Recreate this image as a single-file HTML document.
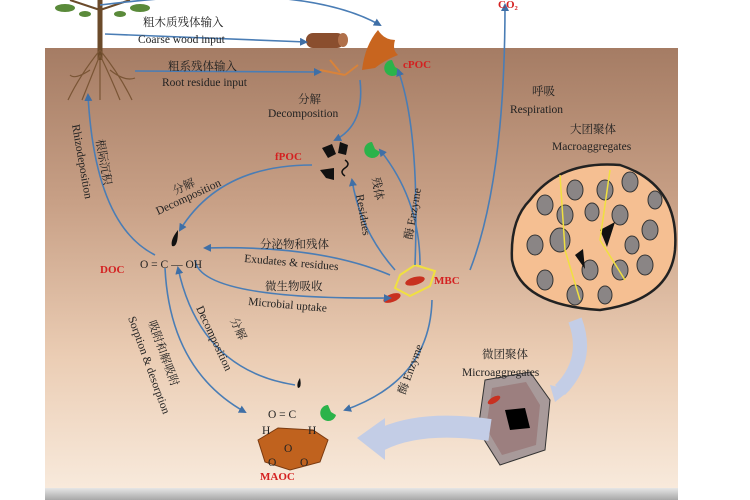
<!DOCTYPE html>
<html><head><meta charset="utf-8"><style>
html,body{margin:0;padding:0;background:#fff;}
svg{display:block}
text{font-family:"Liberation Serif","Noto Serif CJK SC",serif;fill:#222;}
.cn{font-size:11.5px}
.en{font-size:11.5px}
.red{fill:#d42020;font-weight:bold;font-size:11px}
.ar{fill:none;stroke:#4a7db5;stroke-width:1.6}
</style></head><body>
<svg width="750" height="500" viewBox="0 0 750 500">
<defs>
<linearGradient id="soil" x1="0" y1="0" x2="0" y2="1">
<stop offset="0" stop-color="#a57c64"/>
<stop offset="0.35" stop-color="#c8a086"/>
<stop offset="0.7" stop-color="#ebcdb4"/>
<stop offset="1" stop-color="#f8eadc"/>
</linearGradient>
<linearGradient id="sh" x1="0" y1="0" x2="0" y2="1">
<stop offset="0" stop-color="#e6e6e6"/><stop offset="1" stop-color="#a8a8a8"/>
</linearGradient>
<marker id="m" markerWidth="8" markerHeight="8" refX="6" refY="4" orient="auto" markerUnits="userSpaceOnUse"><path d="M0,0 L8,4 L0,8 z" fill="#3f6fa6"/></marker>
</defs>
<rect x="45" y="48" width="633" height="442" fill="url(#soil)"/>
<rect x="45" y="488" width="633" height="12" fill="url(#sh)"/>
<!-- tree -->
<g stroke="#6b4a2a" fill="none">
<path d="M100,0 L100,60" stroke-width="5"/>
<path d="M100,50 Q80,75 68,100 M100,50 Q120,75 132,100 M100,55 Q90,80 82,100 M100,55 Q112,80 120,100 M100,60 L100,100 M90,70 Q75,80 70,75 M110,70 Q125,82 135,78" stroke-width="1.2" stroke="#7a5535"/>
<path d="M100,10 L70,0 M100,10 L130,0" stroke-width="2"/>
</g>
<g fill="#5a8a3a"><ellipse cx="65" cy="8" rx="10" ry="4"/><ellipse cx="140" cy="8" rx="10" ry="4"/><ellipse cx="85" cy="14" rx="6" ry="3"/><ellipse cx="120" cy="14" rx="6" ry="3"/></g>
<!-- log -->
<rect x="306" y="33" width="38" height="15" rx="7" fill="#8a4e2e"/>
<ellipse cx="343" cy="40" rx="5" ry="7" fill="#b0704a"/>
<!-- leaf -->
<path d="M362,70 Q365,45 378,30 Q384,40 395,40 Q392,50 398,55 Q385,60 375,68z" fill="#c8651f"/>
<path d="M320,70 L345,75 M330,60 L340,72 M345,75 L358,65" stroke="#d9833a" stroke-width="2" fill="none"/>
<!-- enzymes -->
<g fill="#2bb34a">
<path d="M392,60 a8,8 0 1,0 8,10 l-5,-3 z"/>
<path d="M372,142 a8,8 0 1,0 8,10 l-5,-3 z"/>
<path d="M328,405 a8,8 0 1,0 8,10 l-5,-3 z"/>
</g>
<!-- fPOC pieces -->
<g fill="#111"><path d="M322,148 l10,-4 l4,10 l-8,4z"/><path d="M340,142 l8,3 l-2,10 l-8,-2z"/><path d="M320,170 l14,-2 l0,12 l-8,-2z"/></g>
<path d="M345,160 q6,4 0,8 q-6,4 0,8" stroke="#111" fill="none" stroke-width="1.5"/>
<!-- DOC droplet -->
<path d="M178,230 q-8,10 -6,16 q6,2 6,-16z" fill="#111"/>
<path d="M300,378 q-4,6 -2,10 q4,0 2,-10z" fill="#111"/>
<!-- MBC -->
<path d="M400,275 l15,-10 l20,6 l-5,15 l-20,10 l-15,-8z" fill="none" stroke="#f0e040" stroke-width="2"/>
<ellipse cx="415" cy="281" rx="10" ry="4" fill="#c83020" transform="rotate(-15 415 281)"/>
<ellipse cx="392" cy="298" rx="9" ry="4" fill="#c83020" transform="rotate(-20 392 298)"/>
<!-- MAOC -->
<path d="M258,440 l20,-12 l35,2 l15,10 l-8,22 l-30,8 l-25,-8z" fill="#c0621e" stroke="#7a3a10"/>
<text x="268" y="418" class="en">O = C</text>
<text x="262" y="434" class="en">H</text><text x="308" y="434" class="en">H</text>
<text x="284" y="452" class="en">O</text><text x="268" y="466" class="en">O</text><text x="300" y="466" class="en">O</text>
<!-- macroaggregate -->
<path d="M530,200 Q560,160 620,165 Q680,185 675,250 Q670,300 600,310 Q520,305 512,260 Q510,220 530,200z" fill="#f5bf92" stroke="#222" stroke-width="2.5"/>
<g fill="#8a8585" stroke="#333">
<ellipse cx="545" cy="205" rx="8" ry="10"/><ellipse cx="575" cy="190" rx="8" ry="10"/><ellipse cx="605" cy="190" rx="8" ry="10"/><ellipse cx="630" cy="182" rx="8" ry="10"/><ellipse cx="655" cy="200" rx="7" ry="9"/>
<ellipse cx="535" cy="245" rx="8" ry="10"/><ellipse cx="565" cy="215" rx="8" ry="10"/><ellipse cx="620" cy="215" rx="8" ry="10"/><ellipse cx="650" cy="230" rx="8" ry="10"/><ellipse cx="592" cy="212" rx="7" ry="9"/>
<ellipse cx="545" cy="280" rx="8" ry="10"/><ellipse cx="575" cy="295" rx="8" ry="10"/><ellipse cx="620" cy="270" rx="8" ry="10"/><ellipse cx="645" cy="265" rx="8" ry="10"/><ellipse cx="605" cy="295" rx="7" ry="9"/>
<ellipse cx="560" cy="240" rx="10" ry="12"/><ellipse cx="590" cy="270" rx="8" ry="10"/><ellipse cx="632" cy="245" rx="7" ry="9"/>
</g>
<path d="M600,230 l15,-8 l-8,25z M575,255 l8,-6 l2,20z" fill="#111"/>
<path d="M560,175 L565,250 L580,300 M610,170 L600,240 L625,280" stroke="#f0e040" fill="none" stroke-width="1.5"/>
<!-- microaggregate -->
<path d="M485,380 L530,372 L550,400 L545,450 L500,465 L478,430z" fill="#a89a9a" stroke="#333"/>
<path d="M492,388 L526,382 L540,405 L536,445 L502,455 L486,428z" fill="#9c7f7f"/>
<ellipse cx="494" cy="400" rx="7" ry="3" fill="#c83020" transform="rotate(-30 494 400)"/>
<path d="M505,410 l20,-2 l5,20 l-20,2z" fill="#000"/>
<!-- big pale arrows -->
<path d="M575,320 Q590,360 560,390" stroke="#c3cde6" stroke-width="14" fill="none"/>
<path d="M550,385 l20,5 l-15,12z" fill="#c3cde6"/>
<path d="M490,430 Q420,420 380,440" stroke="#c3cde6" stroke-width="22" fill="none"/>
<path d="M385,418 l-28,20 l28,22z" fill="#c3cde6"/>
<!-- arrows -->
<path class="ar" marker-end="url(#m)" d="M100,5 Q300,-20 380,25"/>
<path class="ar" marker-end="url(#m)" d="M105,34 L306,42"/>
<path class="ar" marker-end="url(#m)" d="M135,71 L320,72"/>
<path class="ar" marker-end="url(#m)" d="M360,80 Q365,125 335,140"/>
<path class="ar" marker-end="url(#m)" d="M415,265 Q420,130 398,70"/>
<path class="ar" marker-end="url(#m)" d="M420,265 Q420,200 380,150"/>
<path class="ar" marker-end="url(#m)" d="M395,270 Q360,230 352,180"/>
<path class="ar" marker-end="url(#m)" d="M470,270 Q505,180 505,5"/>
<path class="ar" marker-end="url(#m)" d="M312,165 Q220,165 180,230"/>
<path class="ar" marker-end="url(#m)" d="M390,275 Q320,245 205,248"/>
<path class="ar" marker-end="url(#m)" d="M195,260 Q200,300 390,298"/>
<path class="ar" marker-end="url(#m)" d="M155,255 Q95,225 88,95"/>
<path class="ar" marker-end="url(#m)" d="M295,385 Q200,370 178,268"/>
<path class="ar" marker-end="url(#m)" d="M165,268 Q170,370 245,412"/>
<path class="ar" marker-end="url(#m)" d="M432,300 Q430,380 345,410"/>
<!-- labels -->
<text x="143" y="26" class="cn">粗木质残体输入</text>
<text x="138" y="43" class="en">Coarse wood input</text>
<text x="168" y="70" class="cn">粗系残体输入</text>
<text x="162" y="86" class="en">Root residue input</text>
<text x="298" y="103" class="cn">分解</text>
<text x="268" y="117" class="en">Decomposition</text>
<text x="403" y="68" class="red">cPOC</text>
<text x="275" y="160" class="red">fPOC</text>
<text x="100" y="273" class="red">DOC</text>
<text x="434" y="284" class="red">MBC</text>
<text x="260" y="480" class="red">MAOC</text>
<text x="498" y="8" class="red">CO₂</text>
<text x="532" y="95" class="cn">呼吸</text>
<text x="510" y="113" class="en">Respiration</text>
<text x="570" y="133" class="cn">大团聚体</text>
<text x="552" y="150" class="en">Macroaggregates</text>
<text x="482" y="358" class="cn">微团聚体</text>
<text x="462" y="376" class="en">Microaggregates</text>
<text x="140" y="268" class="en">O = C — OH</text>
<text x="260" y="248" class="cn">分泌物和残体</text>
<text x="244" y="262" class="en" transform="rotate(5 244 262)">Exudates &amp; residues</text>
<text x="265" y="290" class="cn">微生物吸收</text>
<text x="248" y="305" class="en" transform="rotate(5 248 305)">Microbial uptake</text>
<text x="175" y="195" class="cn" transform="rotate(-25 175 195)">分解</text>
<text x="158" y="215" class="en" transform="rotate(-25 158 215)">Decomposition</text>
<text x="72" y="125" class="en" transform="rotate(80 72 125)">Rhizodeposition</text>
<text x="96" y="140" class="cn" transform="rotate(80 96 140)">根际沉积</text>
<text x="196" y="308" class="en" transform="rotate(65 196 308)">Decomposition</text>
<text x="230" y="320" class="cn" transform="rotate(65 230 320)">分解</text>
<text x="128" y="318" class="en" transform="rotate(70 128 318)">Sorption &amp; desorption</text>
<text x="148" y="322" class="cn" transform="rotate(70 148 322)">吸附和解吸附</text>
<text x="356" y="195" class="en" transform="rotate(80 356 195)">Residues</text>
<text x="372" y="178" class="cn" transform="rotate(80 372 178)">残体</text>
<text x="412" y="240" class="en" transform="rotate(-80 412 240)">酶 Enzyme</text>
<text x="405" y="395" class="en" transform="rotate(-70 405 395)">酶 Enzyme</text>
</svg>
</body></html>
